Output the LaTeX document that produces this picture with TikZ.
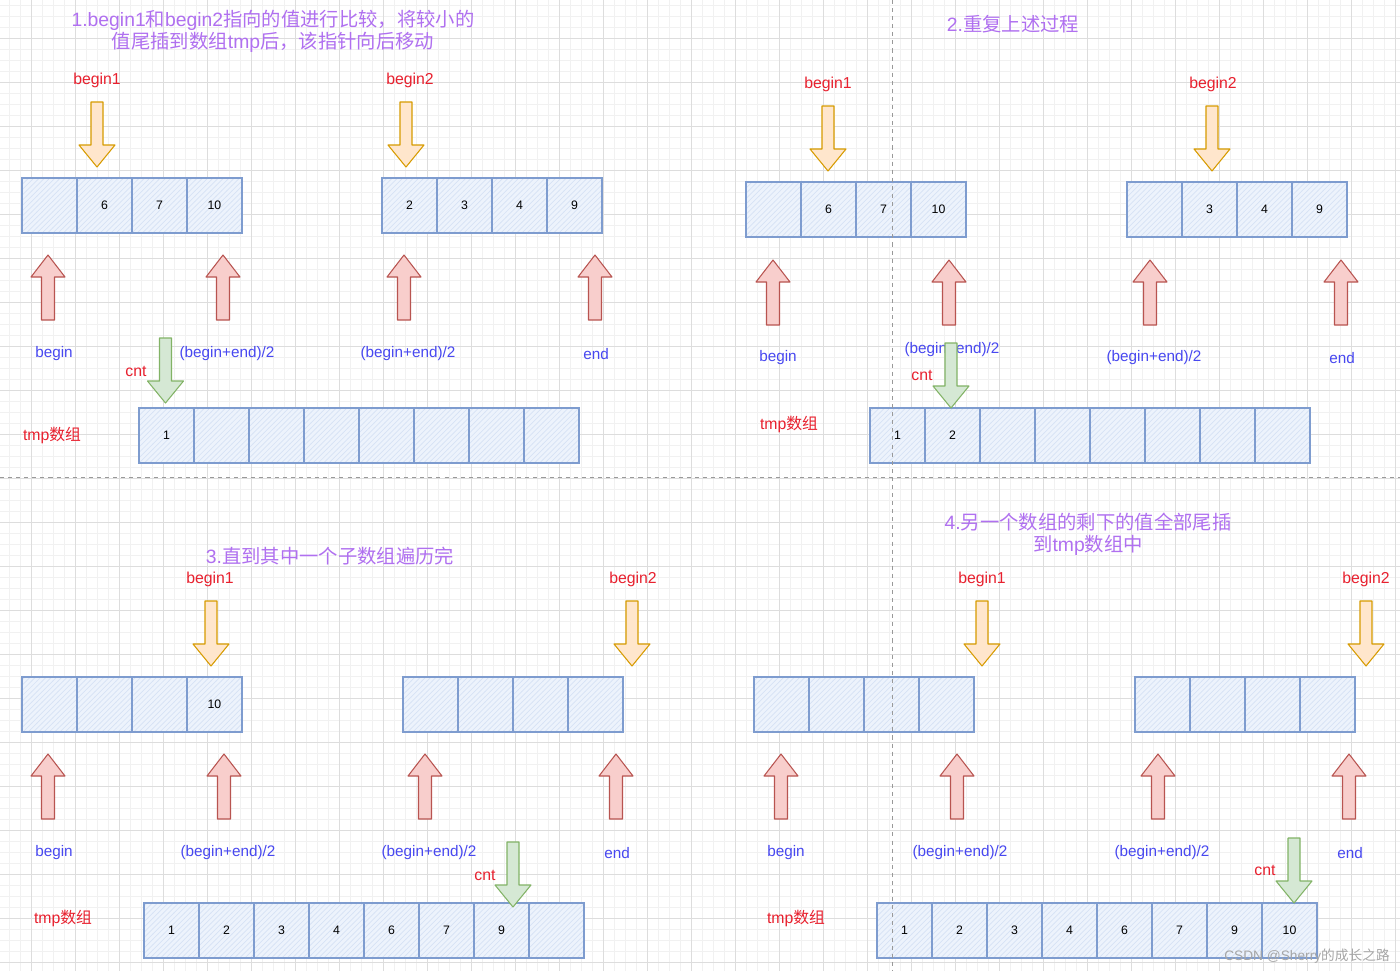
\documentclass[tikz,border=0pt]{standalone}
\usepackage{fontspec}
\setmainfont{Liberation Sans}
\newfontfamily\cjk{Noto Sans CJK SC}
\usetikzlibrary{positioning,patterns}
\definecolor{TitlePurple}{HTML}{B070F0}
\definecolor{LabelRed}{HTML}{E8202E}
\definecolor{LabelBlue}{HTML}{4848F0}
\definecolor{CellLine}{HTML}{7E9CCF}
\definecolor{CellFill}{HTML}{EDF3FC}
\definecolor{CellHatch}{HTML}{D6E2F5}
\definecolor{OrangeLine}{HTML}{D79B00}
\definecolor{OrangeFill}{HTML}{FFE6CC}
\definecolor{RedLine}{HTML}{B85450}
\definecolor{RedFill}{HTML}{F8CECC}
\definecolor{GreenLine}{HTML}{82B366}
\definecolor{GreenFill}{HTML}{D5E8D4}
\definecolor{GridMinor}{HTML}{F1F1F1}
\definecolor{GridMajor}{HTML}{DDDDDD}
\tikzset{cell/.style={draw=CellLine,preaction={fill=CellFill},pattern=north east lines,pattern color=CellHatch,line width=1pt,minimum size=1.1cm,inner sep=0pt,font=\fontsize{7pt}{8pt}\selectfont},
  title/.style={text=TitlePurple,align=center,font=\fontsize{11pt}{12.5pt}\selectfont},
  redlab/.style={text=LabelRed,inner sep=0pt,font=\fontsize{9pt}{10pt}\selectfont},
  bluelab/.style={text=LabelBlue,inner sep=0pt,font=\fontsize{8.7pt}{10pt}\selectfont},
  orangearrow/.style={draw=OrangeLine,fill=OrangeFill,line width=.6pt,line join=round},
  redarrow/.style={draw=RedLine,fill=RedFill,line width=.6pt,line join=round},
  greenarrow/.style={draw=GreenLine,fill=GreenFill,line width=.6pt,line join=round},
  minorgrid/.style={draw=GridMinor,line width=.4pt},
  majorgrid/.style={draw=GridMajor,line width=.5pt},
  divider/.style={draw=black!40,line width=.55pt,dash pattern=on 2.3pt off 2.3pt},
  pics/downblock/.style={code={\draw[#1] (-6,0) -- (6,0) -- (6,43) -- (18,43) -- (0,65) -- (-18,43) -- (-6,43) -- cycle;}},
  pics/upblock/.style={code={\draw[#1] (0,0) -- (17,22) -- (6.5,22) -- (6.5,65) -- (-6.5,65) -- (-6.5,22) -- (-17,22) -- cycle;}}}
\newcommand{\cellrow}[4]{\foreach \v [count=\i] in {#4}{\node[cell] (#1-\i) at ({#2+27.5+55*(\i-1)},#3) {\v};}}

\begin{document}
\begin{tikzpicture}[x=0.02cm,y=-0.02cm]
  \useasboundingbox[fill=white] (0,0) rectangle (1400,971);
  % grid
  \foreach \k in {0,...,126} \draw[minorgrid] ({9.7+11*\k},0) -- ({9.7+11*\k},971);
  \foreach \k in {0,...,87} \draw[minorgrid] (0,{5.7+11*\k}) -- (1400,{5.7+11*\k});
  \foreach \k in {0,...,31} \draw[majorgrid] ({31.7+44*\k},0) -- ({31.7+44*\k},971);
  \foreach \k in {0,...,21} \draw[majorgrid] (0,{38.7+44*\k}) -- (1400,{38.7+44*\k});

  % arrays
  \cellrow{qa1}{22}{205.5}{{},6,7,10}
  \cellrow{qa2}{382}{205.5}{2,3,4,9}
  \cellrow{qat}{139}{435.5}{1,{},{},{},{},{},{},{}}
  \cellrow{qb1}{746}{209.5}{{},6,7,10}
  \cellrow{qb2}{1127}{209.5}{{},3,4,9}
  \cellrow{qbt}{870}{435.5}{1,2,{},{},{},{},{},{}}
  \cellrow{qc1}{22}{704.5}{{},{},{},10}
  \cellrow{qc2}{403}{704.5}{{},{},{},{}}
  \cellrow{qct}{144}{930.5}{1,2,3,4,6,7,9,{}}
  \cellrow{qd1}{754}{704.5}{{},{},{},{}}
  \cellrow{qd2}{1135}{704.5}{{},{},{},{}}
  \cellrow{qdt}{877}{930.5}{1,2,3,4,6,7,9,10}

  % dividers
  \draw[divider] (0,477) -- (1400,477);
  \draw[divider] (892.5,0) -- (892.5,971);

  % step 1
  \node[title] (ta) at (273,31) {1.begin1{\cjk 和}begin2{\cjk 指向的值进行比较，将较小的}\\{\cjk 值尾插到数组}tmp{\cjk 后，该指针向后移动}};
  \node[redlab] (qa-b1) at (97,80) {begin1};
  \node[redlab] (qa-b2) at (410,80) {begin2};
  \node[bluelab] (qa-l1) at (54,354) {begin};
  \node[bluelab] (qa-l2) at (227,354) {(begin+end)/2};
  \node[bluelab] (qa-l3) at (408,354) {(begin+end)/2};
  \node[bluelab] (qa-l4) at (596,354) {end};
  \node[redlab] (qa-cnt) at (136,371) {cnt};
  \node[redlab] (qa-tmp) at (52,435) {tmp{\cjk 数组}};

  % step 2
  \node[title] (tb) at (1013,24) {2.{\cjk 重复上述过程}};
  \node[redlab] (qb-b1) at (828,84) {begin1};
  \node[redlab] (qb-b2) at (1213,84) {begin2};
  \node[bluelab] (qb-l1) at (778,358) {begin};
  \node[bluelab] (qb-l2) at (952,350) {(begin+end)/2};
  \node[bluelab] (qb-l3) at (1154,358) {(begin+end)/2};
  \node[bluelab] (qb-l4) at (1342,358) {end};
  \node[redlab] (qb-cnt) at (922,375) {cnt};
  \node[redlab] (qb-tmp) at (789,424) {tmp{\cjk 数组}};

  % step 3
  \node[title] (tc) at (330,556) {3.{\cjk 直到其中一个子数组遍历完}};
  \node[redlab] (qc-b1) at (210,579) {begin1};
  \node[redlab] (qc-b2) at (633,579) {begin2};
  \node[bluelab] (qc-l1) at (54,853) {begin};
  \node[bluelab] (qc-l2) at (228,853) {(begin+end)/2};
  \node[bluelab] (qc-l3) at (429,853) {(begin+end)/2};
  \node[bluelab] (qc-l4) at (617,853) {end};
  \node[redlab] (qc-cnt) at (485,875) {cnt};
  \node[redlab] (qc-tmp) at (63,918) {tmp{\cjk 数组}};

  % step 4
  \node[title] (td) at (1088,534) {4.{\cjk 另一个数组的剩下的值全部尾插}\\{\cjk 到}tmp{\cjk 数组中}};
  \node[redlab] (qd-b1) at (982,579) {begin1};
  \node[redlab] (qd-b2) at (1366,579) {begin2};
  \node[bluelab] (qd-l1) at (786,853) {begin};
  \node[bluelab] (qd-l2) at (960,853) {(begin+end)/2};
  \node[bluelab] (qd-l3) at (1162,853) {(begin+end)/2};
  \node[bluelab] (qd-l4) at (1350,853) {end};
  \node[redlab] (qd-cnt) at (1265,870) {cnt};
  \node[redlab] (qd-tmp) at (796,918) {tmp{\cjk 数组}};

  % pointer arrows
  \pic (qa-o1) at (97,102) {downblock=orangearrow};
  \pic (qa-o2) at (406,102) {downblock=orangearrow};
  \pic (qb-o1) at (828,106) {downblock=orangearrow};
  \pic (qb-o2) at (1212,106) {downblock=orangearrow};
  \pic (qc-o1) at (211,601) {downblock=orangearrow};
  \pic (qc-o2) at (632,601) {downblock=orangearrow};
  \pic (qd-o1) at (982,601) {downblock=orangearrow};
  \pic (qd-o2) at (1366,601) {downblock=orangearrow};
  \foreach \ax in {48,223,404,595} \pic at (\ax,255) {upblock=redarrow};
  \foreach \ax in {773,949,1150,1341} \pic at (\ax,260) {upblock=redarrow};
  \foreach \ax in {48,224,425,616} \pic at (\ax,754) {upblock=redarrow};
  \foreach \ax in {781,957,1158,1349} \pic at (\ax,754) {upblock=redarrow};
  \pic (qa-g) at (165.5,338) {downblock=greenarrow};
  \pic (qb-g) at (951,343) {downblock=greenarrow};
  \pic (qc-g) at (513,842) {downblock=greenarrow};
  \pic (qd-g) at (1294,838) {downblock=greenarrow};

  \node[text=black!35,inner sep=0pt,font=\fontsize{7.8pt}{9pt}\selectfont] (mark) at (1307,956) {CSDN @Sherry{\cjk 的成长之路}};
\end{tikzpicture}
\end{document}
